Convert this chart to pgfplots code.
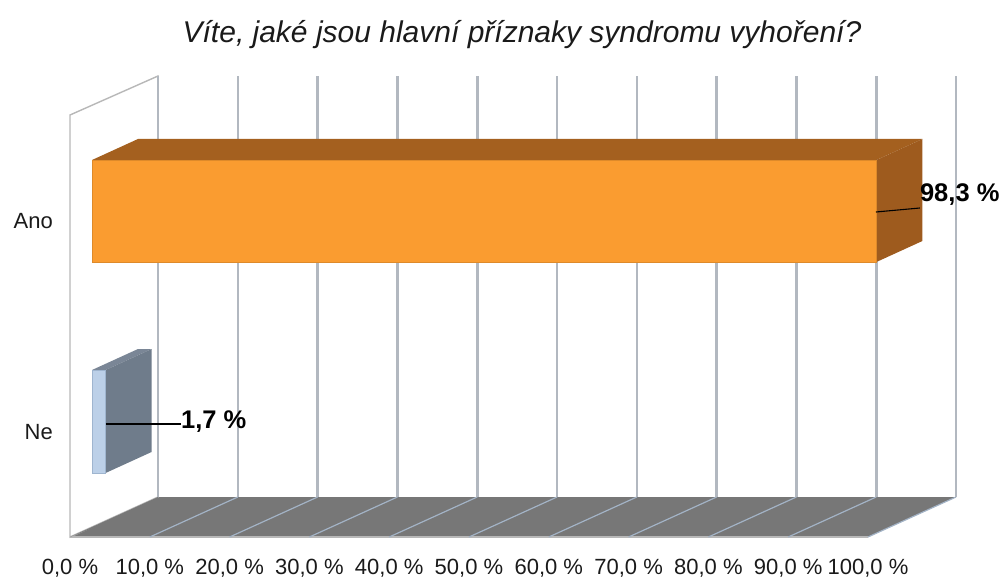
\documentclass[border=0pt]{standalone}
\usepackage{fontspec}
\setmainfont{Liberation Sans}
\usepackage{pgfplots}
\pgfplotsset{compat=1.18}
\definecolor{txt}{HTML}{1A1A1A}
\definecolor{floorc}{HTML}{777777}
\definecolor{floorgrid}{HTML}{A3B3C6}
\definecolor{wallgrid}{HTML}{B2B8C0}
\definecolor{wallline}{HTML}{B8B8B8}
\definecolor{orfront}{HTML}{FA9C30}
\definecolor{oredge}{HTML}{DE8A2A}
\definecolor{ortop}{HTML}{A4601F}
\definecolor{orside}{HTML}{9E5B1E}
\definecolor{nefront}{HTML}{BCD0E8}
\definecolor{needge}{HTML}{9FB5CF}
\definecolor{netop}{HTML}{7A8696}
\definecolor{neside}{HTML}{6F7C8B}
\begin{document}
\begin{tikzpicture}
\begin{axis}[
  scale only axis,
  width=1003pt, height=578pt,
  xmin=-8.772, xmax=116.92,
  ymin=0, ymax=578,
  axis line style={draw=none},
  tick style={draw=none},
  major tick length=0pt,
  xtick={0,10,...,100},
  xticklabels={0{,}0 \%,10{,}0 \%,20{,}0 \%,30{,}0 \%,40{,}0 \%,50{,}0 \%,60{,}0 \%,70{,}0 \%,80{,}0 \%,90{,}0 \%,100{,}0 \%},
  xticklabel style={anchor=base, yshift=4pt, inner sep=0pt, font=\fontsize{22}{26}\selectfont, text=txt},
  ytick={357,146},
  yticklabels={Ano,Ne},
  yticklabel style={anchor=east, xshift=53pt, inner sep=0pt, font=\fontsize{22}{26}\selectfont, text=txt},
  /pgf/number format/assume math mode=true,
]
% floor
\addplot[fill=floorc, draw=none] coordinates {(0,41) (100,41) (111.03,81) (11.03,81)} -- cycle;
\addplot[draw=wallline, line width=1.2pt] coordinates {(0,41) (100,41)};
% floor grid
\addplot[floorgrid, line width=1.2pt] coordinates {(10,41) (21.03,81)};
\addplot[floorgrid, line width=1.2pt] coordinates {(20,41) (31.03,81)};
\addplot[floorgrid, line width=1.2pt] coordinates {(30,41) (41.03,81)};
\addplot[floorgrid, line width=1.2pt] coordinates {(40,41) (51.03,81)};
\addplot[floorgrid, line width=1.2pt] coordinates {(50,41) (61.03,81)};
\addplot[floorgrid, line width=1.2pt] coordinates {(60,41) (71.03,81)};
\addplot[floorgrid, line width=1.2pt] coordinates {(70,41) (81.03,81)};
\addplot[floorgrid, line width=1.2pt] coordinates {(80,41) (91.03,81)};
\addplot[floorgrid, line width=1.2pt] coordinates {(90,41) (101.03,81)};
\addplot[floorgrid, line width=1.2pt] coordinates {(100,41) (111.03,81)};
% left wall
\addplot[draw=wallline, line width=1.4pt, fill=white] coordinates {(0,41) (0,463) (11.03,502) (11.03,81)} -- cycle;
\addplot[fill=floorc, draw=none] coordinates {(0,41) (11.03,81) (11.03,76) } -- cycle;
% back wall grid
\addplot[wallgrid, line width=2.6pt] coordinates {(11.03,81) (11.03,502)};
\addplot[wallgrid, line width=2.6pt] coordinates {(21.03,81) (21.03,502)};
\addplot[wallgrid, line width=2.6pt] coordinates {(31.03,81) (31.03,502)};
\addplot[wallgrid, line width=2.6pt] coordinates {(41.03,81) (41.03,502)};
\addplot[wallgrid, line width=2.6pt] coordinates {(51.03,81) (51.03,502)};
\addplot[wallgrid, line width=2.6pt] coordinates {(61.03,81) (61.03,502)};
\addplot[wallgrid, line width=2.6pt] coordinates {(71.03,81) (71.03,502)};
\addplot[wallgrid, line width=2.6pt] coordinates {(81.03,81) (81.03,502)};
\addplot[wallgrid, line width=2.6pt] coordinates {(91.03,81) (91.03,502)};
\addplot[wallgrid, line width=2.6pt] coordinates {(101.03,81) (101.03,502)};
\addplot[wallgrid, line width=2.6pt] coordinates {(111.03,81) (111.03,502)};
% Ano bar: 98.3
\addplot[fill=ortop, draw=none] coordinates {(2.76,418) (101.06,418) (106.82,439) (8.52,439)} -- cycle;
\addplot[fill=orside, draw=none] coordinates {(101.06,316) (101.06,418) (106.82,439) (106.82,337)} -- cycle;
\addplot[fill=orfront, draw=oredge, line width=0.8pt] coordinates {(2.76,316) (101.06,316) (101.06,418) (2.76,418)} -- cycle;
% Ne bar: 1.7
\addplot[fill=netop, draw=none] coordinates {(2.76,208) (4.46,208) (10.22,229) (8.52,229)} -- cycle;
\addplot[fill=neside, draw=none] coordinates {(4.46,105) (4.46,208) (10.22,229) (10.22,126)} -- cycle;
\addplot[fill=nefront, draw=needge, line width=0.8pt] coordinates {(2.76,105) (4.46,105) (4.46,208) (2.76,208)} -- cycle;
% leader lines
\addplot[black, line width=1.1pt] coordinates {(101.0,366) (106.5,370)};
\addplot[black, line width=1.1pt] coordinates {(4.51,154) (13.9,154)};
% labels
\node[anchor=base west, inner sep=0pt, font=\bfseries\fontsize{25.5}{30}\selectfont, text=black] at (axis cs:106.5,376) {98,3 \%};
\node[anchor=base west, inner sep=0pt, font=\bfseries\fontsize{25.5}{30}\selectfont, text=black] at (axis cs:13.91,150) {1,7 \%};
% title
\node[anchor=base, inner sep=0pt, font=\itshape\fontsize{30}{36}\selectfont, text=txt] at (axis cs:56.64,535) {Víte, jaké jsou hlavní příznaky syndromu vyhoření?};
\end{axis}
\end{tikzpicture}
\end{document}
